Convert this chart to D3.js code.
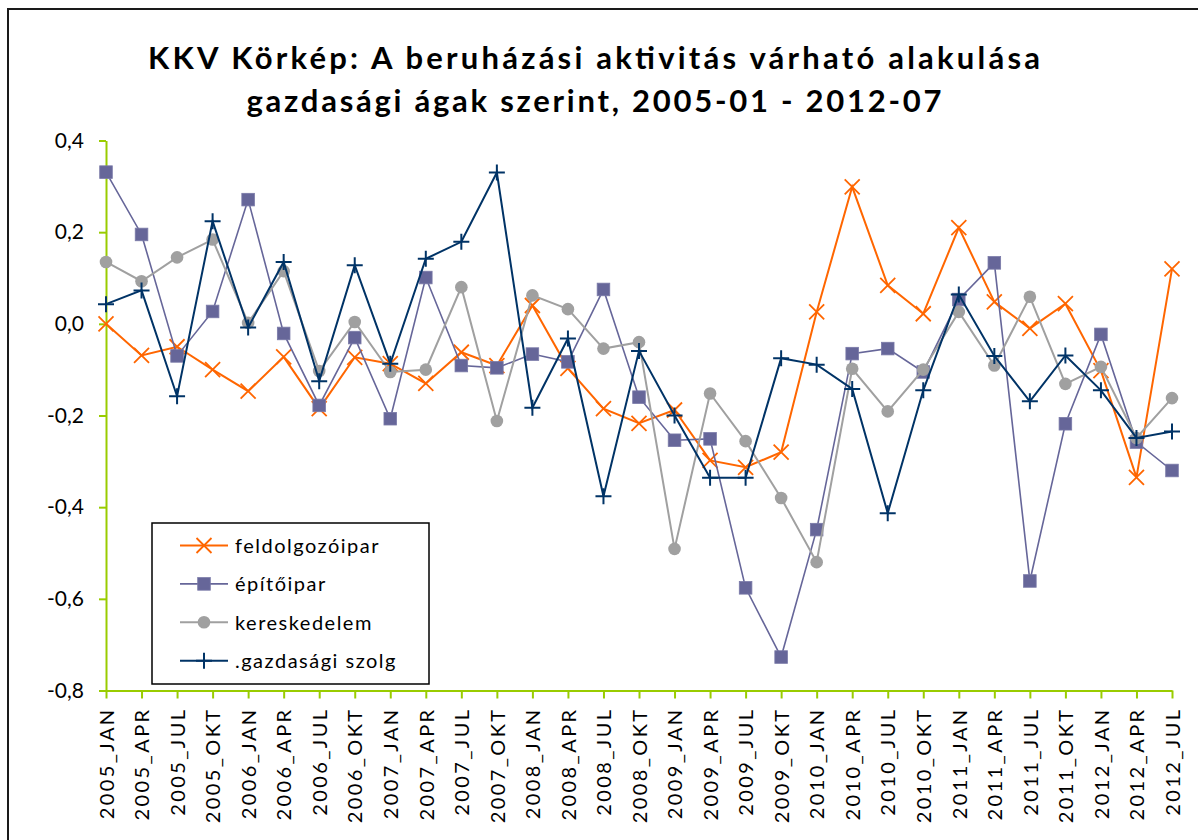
<!DOCTYPE html>
<html>
<head>
<meta charset="utf-8">
<script src="https://cdn.jsdelivr.net/npm/d3@7"></script>
<style>
  html, body { margin: 0; padding: 0; background: #ffffff; }
  svg { display: block; }
  text { font-family: Lato, "Open Sans", sans-serif; fill: #000; }
</style>
</head>
<body>
<svg id="chart" width="1198" height="840"></svg>
<script>
const categories = ["2005_JAN","2005_APR","2005_JUL","2005_OKT","2006_JAN","2006_APR","2006_JUL","2006_OKT",
  "2007_JAN","2007_APR","2007_JUL","2007_OKT","2008_JAN","2008_APR","2008_JUL","2008_OKT",
  "2009_JAN","2009_APR","2009_JUL","2009_OKT","2010_JAN","2010_APR","2010_JUL","2010_OKT",
  "2011_JAN","2011_APR","2011_JUL","2011_OKT","2012_JAN","2012_APR","2012_JUL"];

const feldolgozoipar = [0.000,-0.069,-0.050,-0.100,-0.147,-0.072,-0.185,-0.073,-0.087,-0.130,-0.062,-0.091,
  0.040,-0.097,-0.185,-0.217,-0.188,-0.298,-0.313,-0.280,0.026,0.299,0.084,0.022,0.210,0.048,-0.010,0.044,
  -0.102,-0.335,0.120];
const epitoipar = [0.331,0.195,-0.070,0.027,0.271,-0.021,-0.178,-0.030,-0.207,0.101,-0.091,-0.096,
  -0.066,-0.083,0.075,-0.160,-0.254,-0.251,-0.576,-0.727,-0.449,-0.065,-0.054,-0.105,0.053,0.133,-0.561,-0.218,
  -0.023,-0.258,-0.320];
const kereskedelem = [0.135,0.093,0.145,0.184,0.002,0.115,-0.103,0.004,-0.105,-0.100,0.080,-0.212,
  0.062,0.032,-0.054,-0.040,-0.491,-0.152,-0.256,-0.380,-0.520,-0.098,-0.191,-0.100,0.026,-0.091,0.059,-0.131,
  -0.094,-0.249,-0.162];
const gazdasagiSzolg = [0.043,0.073,-0.158,0.224,-0.008,0.135,-0.125,0.128,-0.087,0.142,0.179,0.330,
  -0.183,-0.032,-0.376,-0.059,-0.200,-0.336,-0.336,-0.075,-0.089,-0.142,-0.413,-0.145,0.064,-0.070,-0.169,-0.069,
  -0.145,-0.249,-0.235];

const seriesNames = ["feldolgozóipar","építőipar","kereskedelem",".gazdasági szolg"];
const yTicks = [0.4,0.2,0.0,-0.2,-0.4,-0.6,-0.8];
const titleLines = ["KKV Körkép: A beruházási aktivitás várható alakulása",
                    "gazdasági ágak szerint, 2005-01 - 2012-07"];

const seriesStyles = [
  {color:"#FF6600", width:2, marker:"x"},
  {color:"#666699", width:1.6, marker:"square"},
  {color:"#A0A0A0", width:2, marker:"circle"},
  {color:"#003366", width:2, marker:"plus"}
];
const seriesData = [feldolgozoipar, epitoipar, kereskedelem, gazdasagiSzolg];

const svg = d3.select("#chart");
const axisColor = "#99CC00";

// outer chart border
svg.append("rect").attr("x",8).attr("y",9).attr("width",1220).attr("height",860)
  .attr("fill","#fff").attr("stroke","#1a1a1a").attr("stroke-width",2);

// title
const titleWidths = [892, 695];
titleLines.forEach((t,i) => {
  svg.append("text")
    .attr("x", 594).attr("y", 69 + i*43)
    .attr("text-anchor","middle")
    .attr("textLength", titleWidths[i]).attr("lengthAdjust","spacing")
    .style("font-size","31px").style("font-weight","bold")
    .text(t);
});

const x = d3.scalePoint().domain(categories).range([106, 1172]);
const y = d3.scaleLinear().domain([-0.8, 0.4]).range([690.5, 140.5]);

const fmt = d => d3.format(".1f")(d).replace("−","-").replace(".",",");

// y axis
const gy = svg.append("g").attr("transform","translate(106,0)")
  .call(d3.axisLeft(y).tickValues(yTicks).tickFormat(fmt).tickSize(7).tickSizeOuter(0).tickPadding(15));
gy.selectAll("path, line").attr("stroke", axisColor).attr("stroke-width", 2);
gy.selectAll("text").style("font-size","21px").style("font-family","Lato, sans-serif").attr("fill","#000");

// x axis
const gx = svg.append("g").attr("transform","translate(0,690.5)")
  .call(d3.axisBottom(x).tickSize(8).tickSizeOuter(0));
gx.selectAll("path, line").attr("stroke", axisColor).attr("stroke-width", 2);
gx.selectAll("text")
  .attr("transform","rotate(-90)")
  .attr("x",-17).attr("y",0).attr("dy","0.36em")
  .style("text-anchor","end")
  .style("font-size","20px").style("letter-spacing","2.4px")
  .style("font-family","Lato, sans-serif").attr("fill","#000");

function drawMarker(g, type, cx, cy, color) {
  if (type === "x") {
    const s = 7.5;
    g.append("path").attr("d",`M${cx-s},${cy-s}L${cx+s},${cy+s}M${cx-s},${cy+s}L${cx+s},${cy-s}`)
      .attr("stroke",color).attr("stroke-width",1.8).attr("fill","none");
  } else if (type === "square") {
    const s = 6.3;
    g.append("rect").attr("x",cx-s).attr("y",cy-s).attr("width",2*s).attr("height",2*s)
      .attr("fill",color).attr("stroke","#7a7aa8").attr("stroke-width",0.8);
  } else if (type === "circle") {
    g.append("circle").attr("cx",cx).attr("cy",cy).attr("r",6.3).attr("fill",color);
  } else if (type === "plus") {
    const s = 8;
    g.append("path").attr("d",`M${cx-s},${cy}L${cx+s},${cy}M${cx},${cy-s}L${cx},${cy+s}`)
      .attr("stroke",color).attr("stroke-width",2).attr("fill","none");
  }
}

const line = d3.line().x((d,i) => x(categories[i])).y(d => y(d));

seriesData.forEach((vals, si) => {
  const st = seriesStyles[si];
  const g = svg.append("g");
  g.append("path").datum(vals).attr("d", line)
    .attr("fill","none").attr("stroke",st.color).attr("stroke-width",st.width)
    .attr("stroke-linejoin","miter");
  vals.forEach((v,i) => drawMarker(g, st.marker, x(categories[i]), y(v), st.color));
});

// legend
const lg = svg.append("g");
lg.append("rect").attr("x",152).attr("y",523).attr("width",277).attr("height",161)
  .attr("fill","#fff").attr("stroke","#000").attr("stroke-width",1.5);
seriesNames.forEach((name, i) => {
  const cy = 545.5 + i*38.4;
  const st = seriesStyles[i];
  lg.append("line").attr("x1",180).attr("x2",228).attr("y1",cy).attr("y2",cy)
    .attr("stroke",st.color).attr("stroke-width",st.width);
  drawMarker(lg, st.marker, 204, cy, st.color);
  lg.append("text").attr("x",235).attr("y",cy).attr("dy","0.36em")
    .style("font-size","20px").style("letter-spacing","1.5px").text(name);
});
</script>
</body>
</html>
